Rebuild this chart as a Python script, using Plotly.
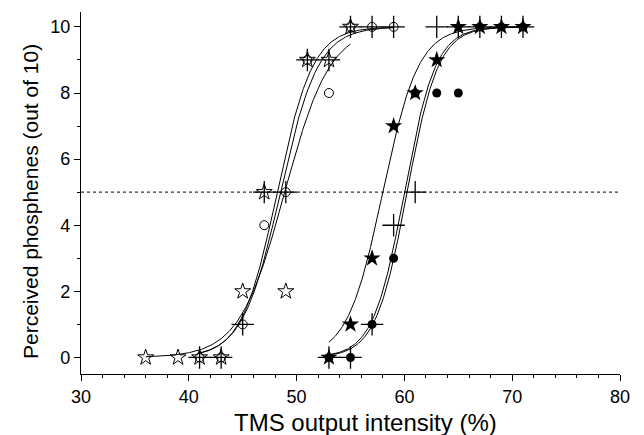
import numpy as np
import plotly.graph_objects as go

# ---- data: left group (open symbols) ----
left_star_x = [36, 39, 41, 43, 45, 47, 49, 51, 53, 55]
left_star_y = [0, 0, 0, 0, 2, 5, 2, 9, 9, 10]
left_circle_x = [41, 43, 45, 47, 49, 51, 53, 55, 57, 59]
left_circle_y = [0, 0, 1, 4, 5, 9, 8, 10, 10, 10]
left_cross_x = [41, 43, 45, 47, 49, 51, 53, 55, 57, 59]
left_cross_y = [0, 0, 1, 5, 5, 9, 9, 10, 10, 10]

# ---- data: right group (filled symbols) ----
right_star_x = [53, 55, 57, 59, 61, 63, 65, 67, 69, 71]
right_star_y = [0, 1, 3, 7, 8, 9, 10, 10, 10, 10]
right_circle_x = [53, 55, 57, 59, 61, 63, 65, 67, 69, 71]
right_circle_y = [0, 0, 1, 3, 8, 8, 8, 10, 10, 10]
right_cross_x = [53, 55, 57, 59, 61, 63, 65, 67, 69, 71]
right_cross_y = [0, 0, 1, 4, 5, 10, 10, 10, 10, 10]

# ---- Boltzmann sigmoid fit parameters ----
fit_x0 = [48.9, 48.5, 48.2, 58.0, 60.0, 60.25]
fit_dx = [2.1, 1.75, 1.65, 1.65, 1.45, 1.45]
fit_start = [36, 41, 41, 53, 53, 53]
fit_end = [55, 59, 59, 71, 71, 71]
fit_top = 10

threshold = 5

x_ticks = [30, 40, 50, 60, 70, 80]
y_ticks = [0, 2, 4, 6, 8, 10]

fig = go.Figure()

# dotted threshold line
fig.add_trace(go.Scatter(x=[x_ticks[0], x_ticks[-1]], y=[threshold, threshold], mode="lines",
                         line=dict(color="#333333", width=1.2, dash="dot"), hoverinfo="skip"))

# fitted curves
for x0, dx, xs, xe in zip(fit_x0, fit_dx, fit_start, fit_end):
    xx = np.linspace(xs, xe, 300)
    yy = fit_top / (1 + np.exp((x0 - xx) / dx))
    fig.add_trace(go.Scatter(x=xx, y=yy, mode="lines",
                             line=dict(color="black", width=1), hoverinfo="skip"))

def add_markers(x, y, symbol, size, lw=1.0):
    fig.add_trace(go.Scatter(x=x, y=y, mode="markers",
                             marker=dict(symbol=symbol, size=size, color="black",
                                         line=dict(color="black", width=lw))))

add_markers(left_circle_x, left_circle_y, "circle-open", 9, 1.0)
add_markers(left_star_x, left_star_y, "star-open", 12, 1.0)
add_markers(left_cross_x, left_cross_y, "cross-thin-open", 16, 1.3)
add_markers(right_circle_x, right_circle_y, "circle", 9, 0)
add_markers(right_star_x, right_star_y, "star", 13, 0)
add_markers(right_cross_x, right_cross_y, "cross-thin-open", 16, 1.3)

axis_common = dict(showline=True, linecolor="black", linewidth=1.3, ticks="outside",
                   ticklen=6, tickwidth=1.3, tickcolor="black", showgrid=False,
                   zeroline=False, mirror=False, tickfont=dict(size=18, color="black"))

fig.update_xaxes(range=[30, 80], tickvals=x_ticks,
                 minor=dict(dtick=2, ticklen=3, ticks="outside", tickcolor="black", tickwidth=1.2, showgrid=False),
                 **axis_common)
fig.update_yaxes(range=[-0.5, 10.45], tickvals=y_ticks,
                 minor=dict(dtick=1, ticklen=3, ticks="outside", tickcolor="black", tickwidth=1.2, showgrid=False),
                 **axis_common)

# page body has an 8px default margin, so the figure is 8px smaller than the window
fig.update_layout(
    width=636, height=427,
    margin=dict(l=73, r=24, t=4, b=61),
    plot_bgcolor="white", paper_bgcolor="white",
    showlegend=False,
    font=dict(family="Liberation Sans, Arial, sans-serif", color="black"),
    annotations=[
        dict(text="TMS output intensity (%)", xref="paper", yref="paper",
             x=0.527, y=-0.135, xanchor="center", yanchor="middle",
             showarrow=False, font=dict(size=24)),
        dict(text="Perceived phosphenes (out of 10)", xref="paper", yref="paper",
             x=-0.094, y=0.476, xanchor="center", yanchor="middle", textangle=-90,
             showarrow=False, font=dict(size=21)),
    ],
)

fig.write_html("out.html")
